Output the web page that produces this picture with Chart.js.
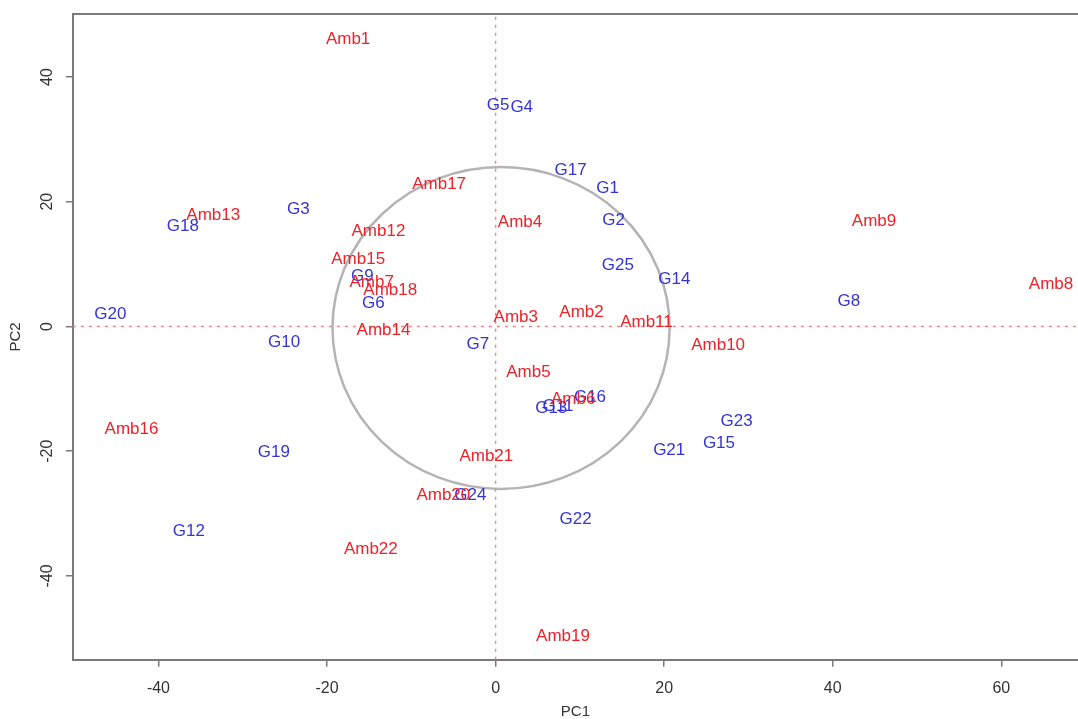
<!DOCTYPE html>
<html>
<head>
<meta charset="utf-8">
<title>PC1 vs PC2</title>
<script src="https://cdn.jsdelivr.net/npm/chart.js@4/dist/chart.umd.min.js"></script>
<style>
    html, body { margin: 0; padding: 0; background: #fff; }
</style>
</head>
<body>
<canvas id="chart-pca" width="1078" height="719"></canvas>
<script>
// Ambientes (rojo)
const ambNames = ['Amb1', 'Amb2', 'Amb3', 'Amb4', 'Amb5', 'Amb6', 'Amb7', 'Amb8', 'Amb9', 'Amb10', 'Amb11',
    'Amb12', 'Amb13', 'Amb14', 'Amb15', 'Amb16', 'Amb17', 'Amb18', 'Amb19', 'Amb20', 'Amb21', 'Amb22'];
const ambPC1 = [-17.5, 10.2, 2.4, 2.9, 3.9, 9.2, -14.7, 65.9, 44.9, 26.4, 17.9,
    -13.9, -33.5, -13.3, -16.3, -43.2, -6.7, -12.5, 8.0, -6.2, -1.1, -14.8];
const ambPC2 = [46.0, 2.3, 1.4, 16.7, -7.3, -11.7, 7.0, 6.8, 16.9, -3.0, 0.7,
    15.2, 17.9, -0.6, 10.7, -16.5, 22.8, 5.8, -49.7, -27.0, -20.9, -35.8];

// Genotipos (azul)
const gNames = ['G1', 'G2', 'G3', 'G4', 'G5', 'G6', 'G7', 'G8', 'G9', 'G10', 'G11', 'G12', 'G13',
    'G14', 'G15', 'G16', 'G17', 'G18', 'G19', 'G20', 'G21', 'G22', 'G23', 'G24', 'G25'];
const gPC1 = [13.3, 14.0, -23.4, 3.1, 0.3, -14.5, -2.1, 41.9, -15.8, -25.1, 7.4, -36.4, 6.6,
    21.2, 26.5, 11.2, 8.9, -37.1, -26.3, -45.7, 20.6, 9.5, 28.6, -3.0, 14.5];
const gPC2 = [22.2, 17.0, 18.8, 35.2, 35.5, 3.7, -2.9, 4.1, 8.0, -2.6, -12.8, -32.8, -13.2,
    7.5, -18.8, -11.3, 25.0, 16.0, -20.2, 1.9, -19.8, -31.0, -15.2, -27.0, 9.8];

const xTicks = [-40, -20, 0, 20, 40, 60];
const yTicks = [-40, -20, 0, 20, 40];
const xRange = [-50.15, 69.1];
const yRange = [-53.45, 50.1];

// circulo de referencia (centro y radios en unidades de PC1 / PC2)
const circleCenter = [0.65, -0.25];
const circleRadius = [20, 25.8];

const FONT = '"Liberation Sans", Arial, Helvetica, sans-serif';
const AXIS_GREY = '#7a7a7a';
const TEXT_DARK = '#333333';

const toPoints = (xs, ys) => xs.map((x, i) => ({ x, y: ys[i] }));

// etiquetas de texto en la posicion de cada punto
const textLabels = {
    id: 'textLabels',
    afterDatasetsDraw(chart) {
        const ctx = chart.ctx;
        ctx.save();
        ctx.font = `17px ${FONT}`;
        ctx.textAlign = 'center';
        ctx.textBaseline = 'middle';
        chart.data.datasets.forEach((ds, i) => {
            if (!ds.names) return;
            const meta = chart.getDatasetMeta(i);
            ctx.fillStyle = ds.textColor;
            meta.data.forEach((pt, j) => ctx.fillText(ds.names[j], pt.x, pt.y));
        });
        ctx.restore();
    }
};

const ring = {
    id: 'ring',
    beforeDatasetsDraw(chart) {
        const { ctx, scales: { x, y } } = chart;
        const cx = x.getPixelForValue(circleCenter[0]);
        const cy = y.getPixelForValue(circleCenter[1]);
        const rx = x.getPixelForValue(circleCenter[0] + circleRadius[0]) - cx;
        const ry = cy - y.getPixelForValue(circleCenter[1] + circleRadius[1]);
        ctx.save();
        ctx.strokeStyle = '#b4b4b4';
        ctx.lineWidth = 2.5;
        ctx.beginPath();
        ctx.ellipse(cx, cy, rx, ry, 0, 0, Math.PI * 2);
        ctx.stroke();
        ctx.restore();
    }
};

// marco superior y etiquetas del eje Y giradas (estilo R)
const frame = {
    id: 'frame',
    afterDraw(chart) {
        const { ctx, chartArea: a, scales: { y } } = chart;
        ctx.save();
        ctx.strokeStyle = AXIS_GREY;
        ctx.lineWidth = 2;
        ctx.beginPath();
        ctx.moveTo(a.left, a.top);
        ctx.lineTo(a.right, a.top);
        ctx.stroke();

        ctx.fillStyle = TEXT_DARK;
        ctx.font = `16px ${FONT}`;
        ctx.textAlign = 'center';
        ctx.textBaseline = 'middle';
        yTicks.forEach(v => {
            ctx.save();
            ctx.translate(a.left - 25, y.getPixelForValue(v));
            ctx.rotate(-Math.PI / 2);
            ctx.fillText(String(v), 0, 0);
            ctx.restore();
        });
        ctx.restore();
    }
};

const refLine = { showLine: true, pointRadius: 0, borderColor: '#ee8585', borderWidth: 1.5, borderDash: [3, 5] };

new Chart(document.getElementById('chart-pca'), {
    type: 'scatter',
    data: {
        datasets: [
            { ...refLine, data: [{ x: 0, y: yRange[0] }, { x: 0, y: yRange[1] }] },
            { ...refLine, data: [{ x: xRange[0], y: 0 }, { x: xRange[1], y: 0 }] },
            { data: toPoints(gPC1, gPC2), names: gNames, textColor: '#3434d4', pointRadius: 0 },
            { data: toPoints(ambPC1, ambPC2), names: ambNames, textColor: '#ee2229', pointRadius: 0 }
        ]
    },
    options: {
        responsive: false,
        animation: false,
        devicePixelRatio: 1,
        layout: { padding: { left: 6.9, top: 14, right: 0, bottom: 0 } },
        plugins: { legend: { display: false }, tooltip: { enabled: false } },
        scales: {
            x: {
                type: 'linear',
                min: xRange[0],
                max: xRange[1],
                afterBuildTicks: s => { s.ticks = xTicks.map(v => ({ value: v })); },
                ticks: { color: TEXT_DARK, font: { size: 16, family: FONT }, padding: 12, maxRotation: 0, autoSkip: false },
                grid: { drawOnChartArea: false, tickLength: 7, color: AXIS_GREY, lineWidth: 1.5 },
                border: { color: AXIS_GREY, width: 2 },
                // Chart.js reserva el padding de ticks dos veces: se compensa aqui
                title: { display: true, text: 'PC1', color: TEXT_DARK, font: { size: 15, family: FONT }, padding: { top: -7, bottom: -2 } }
            },
            y: {
                type: 'linear',
                min: yRange[0],
                max: yRange[1],
                afterBuildTicks: s => { s.ticks = yTicks.map(v => ({ value: v })); },
                ticks: { display: false },
                grid: { drawOnChartArea: false, tickLength: 7, color: AXIS_GREY, lineWidth: 1.5 },
                border: { color: AXIS_GREY, width: 2 },
                title: { display: true, text: 'PC2', color: TEXT_DARK, font: { size: 15, family: FONT }, padding: { top: 0, bottom: 41 } }
            }
        }
    },
    plugins: [ring, textLabels, frame]
});
</script>
</body>
</html>
